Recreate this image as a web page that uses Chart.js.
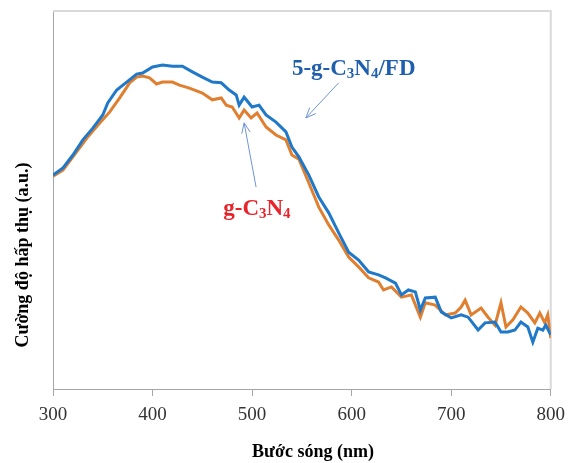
<!DOCTYPE html>
<html>
<head>
<meta charset="utf-8">
<script src="https://cdn.jsdelivr.net/npm/chart.js@4"></script>
<style>
  html, body { margin: 0; padding: 0; background: #fff; }
</style>
</head>
<body>
<canvas id="chart" width="573" height="463"></canvas>
<script>
// wavelength (nm) and absorbance (a.u.)
const wlFD = [300,310,320,330,340,350,355,364,374,384,390,400,410,420,430,440,450,460,469,477,484,487,492,500,507,514,524,534,540,547,557,567,577,587,597,607,617,627,634,644,650,657,664,669,674,684,690,700,710,717,727,734,744,750,757,764,770,777,782,787,792,795,800];
const absFD = [0.566,0.585,0.619,0.659,0.690,0.725,0.757,0.791,0.812,0.833,0.836,0.852,0.857,0.854,0.854,0.839,0.825,0.812,0.810,0.791,0.778,0.751,0.772,0.746,0.751,0.725,0.706,0.680,0.640,0.614,0.566,0.508,0.466,0.413,0.362,0.341,0.310,0.302,0.294,0.280,0.249,0.262,0.257,0.209,0.241,0.243,0.204,0.188,0.196,0.190,0.156,0.175,0.177,0.151,0.151,0.156,0.177,0.164,0.124,0.161,0.156,0.169,0.143];

const wlCN = [300,310,320,334,345,357,367,377,384,390,397,404,410,420,427,437,450,460,469,474,480,487,492,499,505,514,524,534,540,547,557,567,577,587,597,607,617,627,632,640,650,660,669,674,684,694,704,710,714,720,730,737,744,750,755,762,770,777,784,789,794,797,800];
const absCN = [0.563,0.579,0.614,0.664,0.698,0.733,0.770,0.810,0.825,0.828,0.823,0.807,0.812,0.812,0.804,0.796,0.783,0.765,0.770,0.751,0.746,0.717,0.738,0.717,0.730,0.693,0.672,0.659,0.619,0.608,0.545,0.481,0.434,0.394,0.349,0.323,0.294,0.283,0.262,0.270,0.243,0.249,0.190,0.228,0.222,0.196,0.201,0.217,0.235,0.196,0.214,0.190,0.169,0.228,0.164,0.183,0.217,0.201,0.175,0.201,0.175,0.196,0.135];

const xTicks = [300,400,500,600,700,800];

const serif = "'Liberation Serif', 'Times New Roman', serif";

// subscript text pieces: [text, isSub]
function drawRich(ctx, parts, x, y, color, size) {
    ctx.fillStyle = color;
    ctx.textBaseline = 'alphabetic';
    ctx.textAlign = 'left';
    parts.forEach(p => {
        if (p[1]) {
            ctx.font = 'bold ' + Math.round(size * 0.66) + 'px ' + serif;
            ctx.fillText(p[0], x, y + size * 0.14);
        } else {
            ctx.font = 'bold ' + size + 'px ' + serif;
            ctx.fillText(p[0], x, y);
        }
        x += ctx.measureText(p[0]).width;
    });
}

function arrow(ctx, x1, y1, x2, y2) {
    const ang = Math.atan2(y2 - y1, x2 - x1);
    const h = 11;
    ctx.beginPath();
    ctx.moveTo(x1, y1);
    ctx.lineTo(x2, y2);
    ctx.moveTo(x2 - h * Math.cos(ang - 0.4), y2 - h * Math.sin(ang - 0.4));
    ctx.lineTo(x2, y2);
    ctx.lineTo(x2 - h * Math.cos(ang + 0.4), y2 - h * Math.sin(ang + 0.4));
    ctx.stroke();
}

const decor = {
    id: 'decor',
    beforeDatasetsDraw(chart) {
        const {ctx, chartArea: a} = chart;
        ctx.save();
        ctx.strokeStyle = '#d9d9d9';
        ctx.lineWidth = 2;
        ctx.beginPath();
        ctx.moveTo(a.left, a.top);
        ctx.lineTo(a.right, a.top);
        ctx.lineTo(a.right, a.bottom);
        ctx.stroke();
        ctx.restore();
    },
    afterDraw(chart) {
        const {ctx, scales: {x, y}} = chart;
        ctx.save();
        // axis titles
        ctx.fillStyle = '#000';
        ctx.font = 'bold 18px ' + serif;
        ctx.textAlign = 'center';
        ctx.textBaseline = 'middle';
        ctx.fillText('Bước sóng (nm)', 313, 452);
        ctx.translate(23, 255);
        ctx.rotate(-Math.PI / 2);
        ctx.fillText('Cường độ hấp thụ (a.u.)', 0, 0);
        ctx.restore();

        ctx.save();
        drawRich(ctx, [['5-g-C', 0], ['3', 1], ['N', 0], ['4', 1], ['/FD', 0]],
            x.getPixelForValue(540), y.getPixelForValue(0.831), '#1f5fae', 23);
        drawRich(ctx, [['g-C', 0], ['3', 1], ['N', 0], ['4', 1]],
            x.getPixelForValue(471), y.getPixelForValue(0.460), '#e8232a', 23);
        ctx.strokeStyle = '#6f93d6';
        ctx.lineWidth = 1;
        arrow(ctx, x.getPixelForValue(587), y.getPixelForValue(0.810),
                   x.getPixelForValue(554), y.getPixelForValue(0.717));
        arrow(ctx, x.getPixelForValue(504), y.getPixelForValue(0.534),
                   x.getPixelForValue(492), y.getPixelForValue(0.704));
        ctx.restore();
    }
};

const ctx = document.getElementById('chart').getContext('2d');
new Chart(ctx, {
    type: 'line',
    data: {
        datasets: [{
            label: '5-g-C3N4/FD',
            data: wlFD.map((w, i) => ({x: w, y: absFD[i]})),
            borderColor: '#1f78c8',
            borderWidth: 3,
            pointRadius: 0,
            tension: 0
        }, {
            label: 'g-C3N4',
            data: wlCN.map((w, i) => ({x: w, y: absCN[i]})),
            borderColor: '#df7f2f',
            borderWidth: 3,
            pointRadius: 0,
            tension: 0
        }]
    },
    options: {
        responsive: false,
        animation: false,
        layout: { padding: { left: 0, top: 11, right: 20, bottom: 0 } },
        plugins: {
            legend: { display: false },
            tooltip: { enabled: false }
        },
        scales: {
            x: {
                type: 'linear',
                min: 300,
                max: 800,
                afterBuildTicks: s => { s.ticks = xTicks.map(v => ({value: v})); },
                afterFit: s => { s.height = 74; },
                grid: { drawOnChartArea: false, tickLength: 7, color: '#a6a6a6' },
                border: { color: '#a6a6a6', width: 1 },
                ticks: {
                    padding: 8,
                    color: '#333',
                    font: { family: serif, size: 19 }
                }
            },
            y: {
                min: 0,
                max: 1,
                afterFit: s => { s.width = 53; },
                grid: { display: false },
                border: { color: '#a6a6a6', width: 1 },
                ticks: { display: false }
            }
        }
    },
    plugins: [decor]
});
</script>
</body>
</html>
